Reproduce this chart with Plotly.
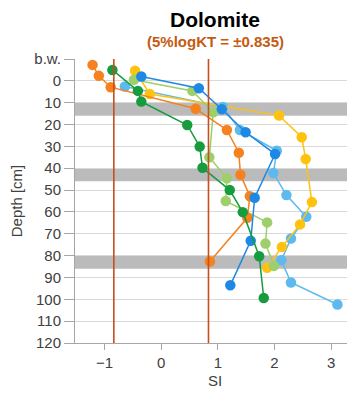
import plotly.graph_objects as go

# ---- data (SI vs depth) ----
orange_si = [-1.21, -1.10, -0.89, 0.61, 1.16, 1.37, 1.40, 1.565, 1.52, 0.86]
orange_d = [-7.3, -2.3, 2.9, 12.8, 22.5, 32.9, 43, 52.8, 62.7, 82.7]

yellow_si = [-0.46, -0.20, 2.08, 2.48, 2.55, 2.66, 2.45, 2.13, 1.87]
yellow_d = [-4.6, 6.0, 15.9, 25.8, 35.8, 55.5, 65.7, 76.0, 85.6]

lgreen_si = [-0.48, 0.55, 0.92, 0.85, 1.16, 1.14, 1.87, 1.84, 1.99]
lgreen_d = [-0.5, 4.6, 14.4, 35.0, 44.6, 55.0, 64.8, 74.5, 84.7]

lblue_si = [-0.64, 1.09, 1.39, 2.04, 1.98, 2.21, 2.56, 2.29, 2.12, 2.29, 3.11]
lblue_d = [2.6, 12.0, 22.5, 32.0, 42.2, 52.3, 62.2, 72.2, 82.1, 92.3, 102.4]

blue_si = [-0.35, 0.665, 1.07, 1.49, 2.01, 1.65, 1.58, 1.22]
blue_d = [-2.0, 3.4, 13.0, 23.5, 33.5, 53.5, 73.2, 93.6]

dgreen_si = [-0.86, -0.41, -0.35, 0.46, 0.68, 0.73, 1.21, 1.44, 1.73, 1.81]
dgreen_d = [-5.0, 4.6, 9.5, 20.2, 30.1, 39.8, 50.0, 60.1, 80.3, 99.4]

kt_limit = 0.835
bands = [(10, 16), (40, 46), (80, 86)]
y_tickvals = [-10, 0, 10, 20, 30, 40, 50, 60, 70, 80, 90, 100, 110, 120]
y_ticktext = ["b.w."] + [str(v) for v in y_tickvals[1:]]
x_tickvals = [-1, 0, 1, 2, 3]

series = [
    (lblue_si, lblue_d, "#5DB9EE"),
    (yellow_si, yellow_d, "#FFC20E"),
    (lgreen_si, lgreen_d, "#9DD06A"),
    (orange_si, orange_d, "#F5821F"),
    (blue_si, blue_d, "#1E88E5"),
    (dgreen_si, dgreen_d, "#169B3E"),
]

fig = go.Figure()
for xs, ds, col in series:
    fig.add_trace(go.Scatter(x=xs, y=ds, mode="lines+markers",
                             line=dict(color=col, width=1.5),
                             marker=dict(color=col, size=10.5),
                             showlegend=False))

for y0, y1 in bands:
    fig.add_shape(type="rect", xref="paper", x0=0, x1=1, yref="y", y0=y0, y1=y1,
                  fillcolor="#BBBBBB", line_width=0, layer="below")

for xv in (-kt_limit, kt_limit):
    fig.add_shape(type="line", xref="x", x0=xv, x1=xv, yref="paper", y0=0, y1=1,
                  line=dict(color="#C4501E", width=1.6), layer="above")

fig.add_annotation(text="<b>Dolomite</b>", xref="paper", yref="paper",
                   x=0.5, y=1, yshift=40, xanchor="center", yanchor="middle",
                   showarrow=False, font=dict(size=21, color="black"))
fig.add_annotation(text="<b>(5%logKT = ±0.835)</b>", xref="paper", yref="paper",
                   x=0.5, y=1, yshift=18, xanchor="center", yanchor="middle",
                   showarrow=False, font=dict(size=15, color="#C55A11"))

fig.update_layout(
    width=347, height=391,
    margin=dict(l=67, r=0, t=51, b=56),
    paper_bgcolor="white", plot_bgcolor="white",
    font=dict(family="Liberation Sans, Arial, sans-serif", size=15, color="#404040"),
)
fig.update_xaxes(range=[-1.52, 3.42], tickvals=x_tickvals, showgrid=False, zeroline=False,
                 showline=True, linecolor="#A6A6A6", linewidth=1,
                 ticks="outside", ticklen=6, tickcolor="#A6A6A6",
                 tickfont=dict(size=15),
                 title=dict(text="SI", standoff=5, font=dict(size=15)))
fig.update_yaxes(range=[120, -10], tickvals=y_tickvals, ticktext=y_ticktext,
                 showgrid=True, gridcolor="#D9D9D9", gridwidth=1, zeroline=False,
                 showline=True, linecolor="#A6A6A6", linewidth=1,
                 ticks="outside", ticklen=10, tickcolor="#A6A6A6",
                 tickfont=dict(size=15),
                 title=dict(text="Depth [cm]", standoff=8, font=dict(size=15)))

fig.write_html("out.html")
